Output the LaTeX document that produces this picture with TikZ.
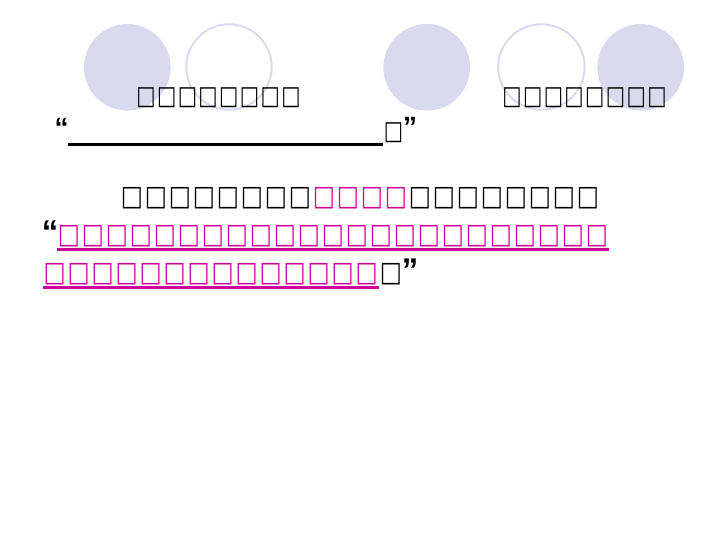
\documentclass[tikz,border=0pt]{standalone}
\usepackage{fontspec}
\setmainfont{DejaVu Sans}
\newfontfamily\qfont{Liberation Sans}
\definecolor{mag}{RGB}{204,0,153}
\definecolor{lav}{RGB}{218,218,238}
\newcommand\tofuS{\scalebox{1}[1.28]{□}}
\newcommand\tofuL{\scalebox{1}[1.2]{□}}
\tikzset{
  bxs/.style={inner sep=0pt, outer sep=0pt, font=\fontsize{20.5}{20.5}\selectfont},
  bxl/.style={inner sep=0pt, outer sep=0pt, font=\fontsize{23.5}{23.5}\selectfont},
  qmark/.style={inner sep=0pt, outer sep=0pt, font=\qfont\bfseries\fontsize{33}{33}\selectfont},
  qmarks/.style={inner sep=0pt, outer sep=0pt, font=\qfont\bfseries\fontsize{28}{28}\selectfont},
  fillc/.style={fill=lav, draw=none},
  ringc/.style={draw=lav, line width=2bp},
  uline/.style={line width=2.7bp}
}
\begin{document}
\begin{tikzpicture}[x=1bp,y=-1bp]
\useasboundingbox (0,0) rectangle (720,540);
% decorative circles
\fill[fillc] (127.3,67.3) ellipse [x radius=43.3bp, y radius=43.3bp];
\draw[ringc] (229,67) ellipse [x radius=42.7bp, y radius=42.7bp];
\fill[fillc] (426.7,67.3) ellipse [x radius=43.3bp, y radius=43.3bp];
\draw[ringc] (541.4,67) ellipse [x radius=43.3bp, y radius=42.7bp];
\fill[fillc] (640.7,67.3) ellipse [x radius=43.3bp, y radius=43.3bp];
% line 1
\foreach \i in {0,...,7} {
  \node[bxs] (la\i) at ({146+20.7*\i},98) {\tofuS};
  \node[bxs] (lb\i) at ({512+20.7*\i},98) {\tofuS};
}
% line 2
\node[qmarks] (q1) at (61.7,127.5) {“};
\coordinate (u1a) at (68,144.3);
\coordinate (u1b) at (383,144.3);
\draw[uline] (u1a) -- (u1b);
\node[bxs] (l2) at (393.5,132.7) {\tofuS};
\node[qmarks, anchor=north west, yshift=5bp] (q2) at (l2.north east) {”};
% line 3
\foreach \i in {0,...,19} {
  \ifnum\i<8 \def\cc{black}\else\ifnum\i<12 \def\cc{mag}\else\def\cc{black}\fi\fi
  \node[bxl, text=\cc] (lc\i) at ({132+24*\i},198) {\tofuL};
}
% line 4
\node[qmark] (q3) at (50,232.5) {“};
\foreach \i in {0,...,22} {
  \node[bxl, text=mag] (ld\i) at ({69+24*\i},236) {\tofuL};
}
\coordinate (u2a) at (56.7,249.3);
\coordinate (u2b) at (609,249.3);
\draw[uline, mag] (u2a) -- (u2b);
% line 5
\foreach \i in {0,...,13} {
  \node[bxl, text=mag] (le\i) at ({54.7+24*\i},274) {\tofuL};
}
\node[bxl] (le14) at (391,274) {\tofuL};
\node[qmark] (q4) at (410,270) {”};
\coordinate (u3a) at (42.7,287.3);
\coordinate (u3b) at (379,287.3);
\draw[uline, mag] (u3a) -- (u3b);
\end{tikzpicture}
\end{document}
